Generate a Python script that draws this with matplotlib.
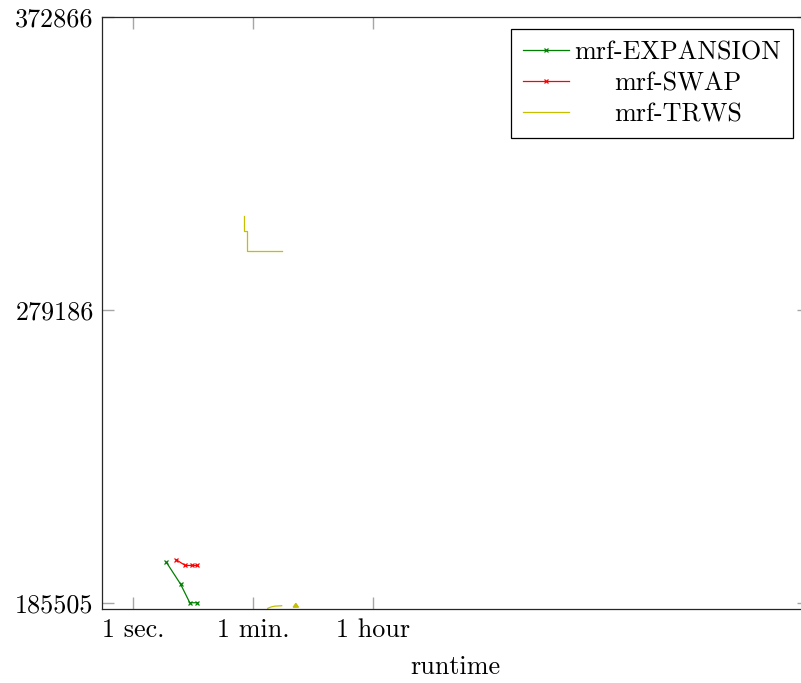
import numpy as np
import matplotlib
matplotlib.use("Agg")
import matplotlib.pyplot as plt

# data (runtime in seconds, energy)
exp_t = [3.16, 5.1, 7.0, 9.0]
exp_v = [198389, 191483, 185505, 185505]

swap_t = [4.4, 6.0, 7.6, 9.1]
swap_v = [199252, 197430, 197430, 197430]

trws_top_t = [44.6, 44.6, 49.4, 49.4, 165]
trws_top_v = [309229, 304529, 304529, 298039, 298039]
trws_low_t = [100, 112, 128, 161]
trws_low_v = [183713, 184150, 184420, 184544]
trws_tri_t = [238, 261, 286]
trws_tri_v = [184065, 185313, 184065]

xticks = [1, 60, 3600]
xticklabels = ["1 sec.", "1 min.", "1 hour"]
yticks = [185505, 279186, 372866]

plt.rcParams['font.family'] = ['cmr10', 'DejaVu Serif']
plt.rcParams['axes.formatter.use_mathtext'] = True
fs = 18.8

fig = plt.figure(figsize=(8.01, 6.83), dpi=100)
ax = fig.add_axes([102 / 801, (683 - 609) / 683, (809 - 102) / 801, (609 - 17) / 683])

green = '#008000'
red = '#ff0000'
yellow = '#c4bf00'

ax.plot(exp_t, exp_v, color=green, lw=0.9, marker='x', ms=3.5, mew=0.9, label='mrf-EXPANSION')
ax.plot(swap_t, swap_v, color=red, lw=0.9, marker='x', ms=3.5, mew=0.9, label='mrf-SWAP')
ax.plot(trws_top_t, trws_top_v, color=yellow, lw=0.9, label='mrf-TRWS')
ax.plot(trws_low_t, trws_low_v, color=yellow, lw=0.9)
ax.fill(trws_tri_t, trws_tri_v, color=yellow, lw=0.9)

ax.set_xscale('log')
ax.set_xlim(0.35, 1.05e10)
ax.set_ylim(183500, 372866)
ax.set_xticks(xticks)
ax.set_xticklabels(xticklabels)
ax.xaxis.set_minor_locator(matplotlib.ticker.NullLocator())
ax.set_yticks(yticks)
ax.set_yticklabels([str(v) for v in yticks])
ax.tick_params(direction='in', length=8.5, width=1.0, color='0.65',
               top=True, right=True, labelsize=fs)
ax.tick_params(axis='x', pad=7)
ax.tick_params(axis='y', pad=6)
for s in ax.spines.values():
    s.set_linewidth(0.9)
    s.set_color('0.15')
ax.set_xlabel('runtime', fontsize=fs, labelpad=9)

leg = ax.legend(loc='upper right', bbox_to_anchor=(793 / 801, (683 - 29) / 683),
                bbox_transform=fig.transFigure, fancybox=False, edgecolor='black',
                framealpha=1, borderaxespad=0, handlelength=1.75, handletextpad=0.22,
                labelspacing=0.28, borderpad=0.45, fontsize=fs)
leg.get_frame().set_linewidth(0.9)

# center the legend labels in their column, like the original
fig.canvas.draw()
texts = leg.get_texts()
exts = [t.get_window_extent() for t in texts]
x0 = min(e.x0 for e in exts)
x1 = max(e.x1 for e in exts)
cx = (x0 + x1) / 2
for t, e in zip(texts, exts):
    fig.text(cx / fig.bbox.width, e.y0 / fig.bbox.height, t.get_text(),
             ha='center', va='bottom', fontsize=fs)
    t.set_alpha(0)

fig.savefig('out.png', dpi=100)
